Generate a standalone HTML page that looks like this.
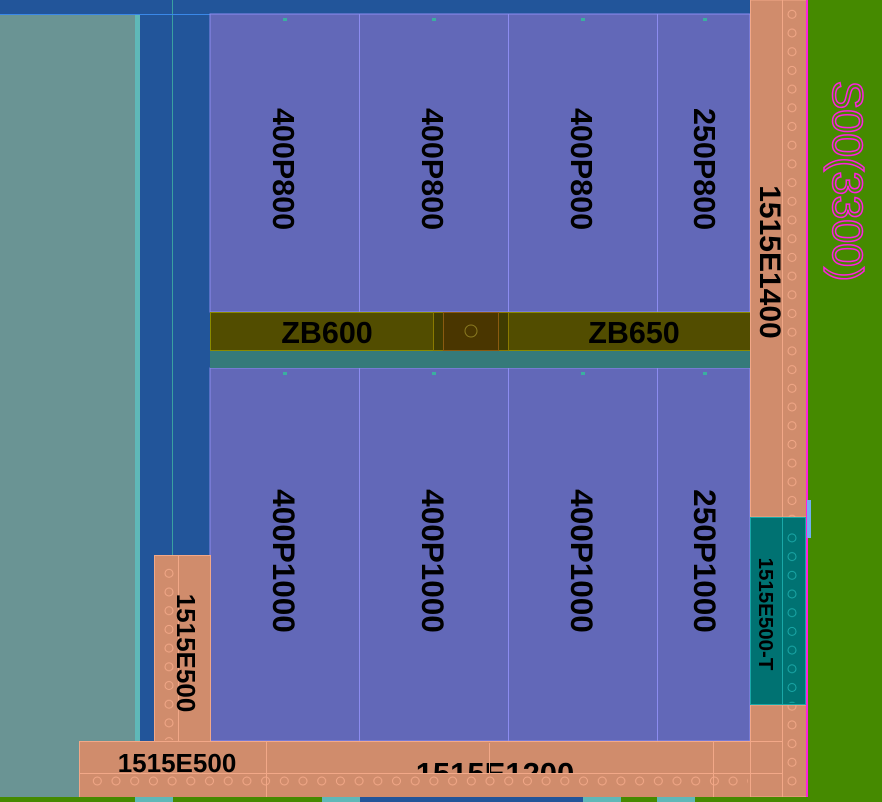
<!DOCTYPE html>
<html><head><meta charset="utf-8"><style>
html,body{margin:0;padding:0;background:#458a00;}
svg{display:block}
text{font-family:"Liberation Sans",sans-serif;font-weight:bold;fill:#000}
</style></head><body>
<svg width="882" height="802" viewBox="0 0 882 802" xmlns="http://www.w3.org/2000/svg">
<defs>
<pattern id="hx" x="88" y="772" width="18.7" height="18" patternUnits="userSpaceOnUse"><circle cx="9.3" cy="9" r="4" fill="none" stroke="#f2a888" stroke-width="1"/></pattern>
<pattern id="hy" x="783" y="5" width="18" height="18.7" patternUnits="userSpaceOnUse"><circle cx="9" cy="9.3" r="4" fill="none" stroke="#f2a888" stroke-width="1"/></pattern>
<pattern id="hyt" x="783" y="5" width="18" height="18.7" patternUnits="userSpaceOnUse"><circle cx="9" cy="9.3" r="4" fill="none" stroke="#1aa8a8" stroke-width="1"/></pattern>
<pattern id="hl" x="160" y="564" width="18" height="18.7" patternUnits="userSpaceOnUse"><circle cx="9" cy="9.3" r="4" fill="none" stroke="#f2a888" stroke-width="1"/></pattern>
</defs>
<rect width="882" height="802" fill="#458a00"/>
<rect x="0" y="0" width="750" height="14" fill="#22559a"/>
<rect x="0" y="14" width="135" height="783" fill="#6a9494"/>
<rect x="135" y="14" width="5" height="783" fill="#5fb8b8"/>
<rect x="140" y="14" width="70" height="783" fill="#22559a"/>
<line x1="172.5" y1="0" x2="172.5" y2="797" stroke="#3aa0a0"/>
<line x1="0" y1="14.5" x2="750" y2="14.5" stroke="#3a88e8"/>
<rect x="210" y="14" width="540" height="298" fill="#6268b8" stroke="#8c8cf0"/>
<rect x="210" y="368" width="540" height="373" fill="#6268b8" stroke="#8c8cf0"/>
<g stroke="#8c8cf0">
<line x1="359.5" y1="14" x2="359.5" y2="312"/><line x1="508.5" y1="14" x2="508.5" y2="312"/><line x1="657.5" y1="14" x2="657.5" y2="312"/>
<line x1="359.5" y1="368" x2="359.5" y2="741"/><line x1="508.5" y1="368" x2="508.5" y2="741"/><line x1="657.5" y1="368" x2="657.5" y2="741"/>
</g>
<g fill="#3ab0a0"><rect x="283" y="18" width="4" height="3"/><rect x="432" y="18" width="4" height="3"/><rect x="581" y="18" width="4" height="3"/><rect x="703" y="18" width="4" height="3"/>
<rect x="283" y="372" width="4" height="3"/><rect x="432" y="372" width="4" height="3"/><rect x="581" y="372" width="4" height="3"/><rect x="703" y="372" width="4" height="3"/></g>
<rect x="210" y="350" width="540" height="18" fill="#357a7a"/>
<rect x="210.5" y="312.5" width="540" height="38" fill="#524d00" stroke="#8a8a00"/>
<text x="327" y="343" font-size="30.5" text-anchor="middle">ZB600</text>
<text x="634" y="343" font-size="30.5" text-anchor="middle">ZB650</text>
<rect x="433.5" y="312.5" width="75" height="38" fill="#403c00" stroke="#8a7a00"/>
<rect x="443.5" y="312.5" width="55" height="38" fill="#4a3600" stroke="#8a5a10"/>
<circle cx="471" cy="331" r="6" fill="none" stroke="#8a7a20"/>
<g font-size="30.5" text-anchor="middle">
<text transform="translate(273,169) rotate(90)">400P800</text>
<text transform="translate(422,169) rotate(90)">400P800</text>
<text transform="translate(571,169) rotate(90)">400P800</text>
<text transform="translate(694,169) rotate(90)">250P800</text>
</g>
<g font-size="31.5" text-anchor="middle">
<text transform="translate(273,561) rotate(90)">400P1000</text>
<text transform="translate(422,561) rotate(90)">400P1000</text>
<text transform="translate(571,561) rotate(90)">400P1000</text>
<text transform="translate(694,561) rotate(90)">250P1000</text>
</g>
<rect x="750.5" y="0" width="56" height="517" fill="#d08c6c" stroke="#f2a888"/>
<rect x="750.5" y="705" width="56" height="92" fill="#d08c6c" stroke="#f2a888"/>
<line x1="782.5" y1="0" x2="782.5" y2="797" stroke="#f2a888"/>
<rect x="783" y="4" width="22" height="513" fill="url(#hy)"/>
<rect x="783" y="705" width="22" height="90" fill="url(#hy)"/>
<line x1="750" y1="741.5" x2="782" y2="741.5" stroke="#f2a888"/>
<line x1="750" y1="773.5" x2="782" y2="773.5" stroke="#f2a888"/>
<text transform="translate(760,262) rotate(90)" font-size="30" text-anchor="middle">1515E1400</text>
<rect x="750.5" y="517.5" width="55" height="187" fill="#007272" stroke="#1aa8a8"/>
<line x1="782.5" y1="517" x2="782.5" y2="705" stroke="#1aa8a8"/>
<rect x="783" y="525" width="22" height="178" fill="url(#hyt)"/>
<text transform="translate(759,614) rotate(90)" font-size="20.5" text-anchor="middle">1515E500-T</text>
<rect x="806" y="0" width="2" height="797" fill="#ff20e0"/>
<rect x="807" y="500" width="4" height="38" fill="#70b0f0"/>
<text transform="translate(833,181) rotate(90)" font-size="43" text-anchor="middle" style="font-weight:normal;fill:none;stroke:#ff20e0;stroke-width:1.5">S00(3300)</text>
<rect x="154.5" y="555.5" width="56" height="186" fill="#d08c6c" stroke="#f2a888"/>
<line x1="178.5" y1="555" x2="178.5" y2="741" stroke="#f2a888"/>
<rect x="160" y="564" width="18" height="176" fill="url(#hl)"/>
<text transform="translate(177,653) rotate(90)" font-size="26" text-anchor="middle">1515E500</text>
<rect x="79.5" y="741.5" width="671" height="56" fill="#d08c6c" stroke="#f2a888"/>
<line x1="266.5" y1="741" x2="266.5" y2="797" stroke="#f2a888"/>
<line x1="713.5" y1="741" x2="713.5" y2="797" stroke="#f2a888"/>
<text x="177" y="772" font-size="26" text-anchor="middle">1515E500</text>
<text x="495" y="784" font-size="31" text-anchor="middle">1515E1200</text>
<rect x="80" y="774" width="670" height="23" fill="#d08c6c"/>
<line x1="79" y1="773.5" x2="750" y2="773.5" stroke="#f2a888"/>
<line x1="266.5" y1="773" x2="266.5" y2="797" stroke="#f2a888"/>
<line x1="713.5" y1="773" x2="713.5" y2="797" stroke="#f2a888"/>
<rect x="88" y="772" width="660" height="18" fill="url(#hx)"/>
<line x1="489.5" y1="743" x2="489.5" y2="773" stroke="#f2a888"/>
<rect x="0" y="797" width="882" height="5" fill="#458a00"/>
<rect x="135" y="797" width="38" height="5" fill="#5fb8b8"/>
<rect x="322" y="797" width="38" height="5" fill="#5fb8b8"/>
<rect x="360" y="797" width="223" height="5" fill="#22559a"/>
<rect x="583" y="797" width="38" height="5" fill="#5fb8b8"/>
<rect x="657" y="797" width="38" height="5" fill="#5fb8b8"/>
</svg>
</body></html>
